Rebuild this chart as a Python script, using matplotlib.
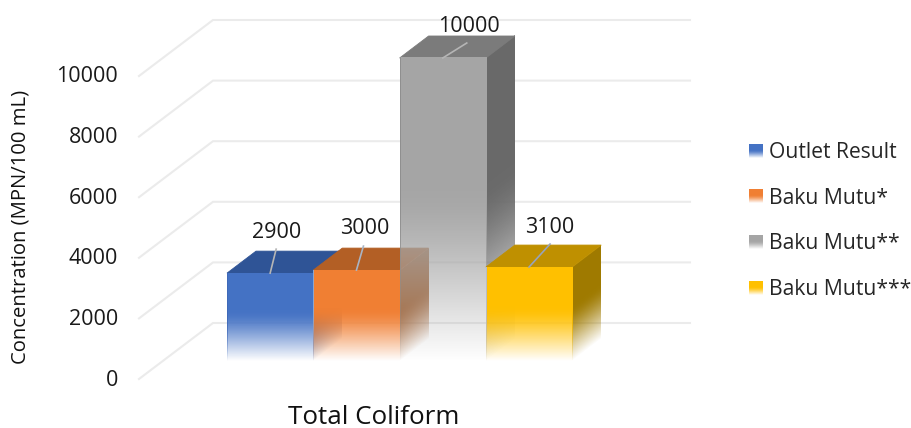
import numpy as np
import matplotlib
matplotlib.use('Agg')
import matplotlib.pyplot as plt
from matplotlib.colors import to_rgb
from matplotlib.patches import Polygon
from matplotlib.transforms import Affine2D

plt.rcParams['font.family'] = ['Open Sans', 'DejaVu Sans']

series = ['Outlet Result', 'Baku Mutu*', 'Baku Mutu**', 'Baku Mutu***']
values = [2900, 3000, 10000, 3100]
category = 'Total Coliform'
y_ticks = [0, 2000, 4000, 6000, 8000, 10000]
y_label = 'Concentration (MPN/100 mL)'

front_colors = ['#4472c4', '#f07f33', '#a5a5a5', '#ffc000']
top_colors = ['#2f5496', '#b35f25', '#7b7b7b', '#bf9000']
side_colors = ['#2f5496', '#a8622f', '#696969', '#9f7a00']
edge_colors = ['#3f69b8', '#8fa6cc', '#8f8f8f', '#b8bcc4']

# pixel scale of the chart
W, H = 912, 428
PX_X = 86.3
PX_Y = 0.0303
X0, Y0 = 227, 361


def dx(px):
    return px / PX_X


def dy(px):
    return px / PX_Y


# bar depth and floor offsets, in data units
DEPTH_X, DEPTH_Y = dx(29), dy(22)
FLOOR_FRONT = (dx(139 - X0), dy(Y0 - 379))
FLOOR_BACK = (dx(213 - X0), dy(Y0 - 323))
WALL_END = dx(690 - X0)

fig = plt.figure(figsize=(W / 100, H / 100), dpi=100)
ax = fig.add_axes([0, 0, 1, 1])
ax.axis('off')


def fade(color):
    # solid towards the top, fading out almost linearly to the bottom
    t = np.linspace(0, 1, 1024)
    s = np.clip(t / 0.58, 0, 1)
    img = np.ones((1024, 1, 4))
    img[:, :, :3] = to_rgb(color)
    img[:, :, 3] = (1.2 * s - 0.2 * s ** 6)[:, None]
    return img


def face(color, origin, u, v, base, z):
    m = np.array([[u[0], v[0], origin[0]], [u[1], v[1], origin[1]], [0, 0, 1]])
    ax.imshow(fade(color), extent=(0, 1, 0, 1), origin='lower', aspect='auto',
              interpolation='nearest',
              transform=Affine2D(m) + base, zorder=z)


# gridlines on the floor and the back wall
for t in y_ticks:
    ax.plot([FLOOR_FRONT[0], FLOOR_BACK[0], WALL_END],
            [t + FLOOR_FRONT[1], t + FLOOR_BACK[1], t + FLOOR_BACK[1]],
            color='#ebebeb', lw=1.5, zorder=1, solid_joinstyle='miter')
    ax.text(FLOOR_FRONT[0] - dx(21), t + FLOOR_FRONT[1] - dy(1), str(t), ha='right', va='center',
            fontsize=15.5, color='#1a1a1a')

# bars, left to right, each one covering the previous
for i, v in enumerate(values):
    z = 3 + i
    face(side_colors[i], (i + 1, 0), (DEPTH_X, DEPTH_Y), (0, v), ax.transData, z)
    top = [(i, v), (i + 1, v), (i + 1 + DEPTH_X, v + DEPTH_Y), (i + DEPTH_X, v + DEPTH_Y)]
    ax.add_patch(Polygon(top, closed=True, fc=top_colors[i], ec=top_colors[i], lw=0.6, zorder=z))
    face(front_colors[i], (i, 0), (1, 0), (0, v), ax.transData, z)
    # one pixel wide outline down the left of the bar, fading like the face
    face(edge_colors[i], (i, 0), (dx(1), 0), (0, v), ax.transData, z)

# value labels with their leader lines (offsets in pixels from the front top edge)
leader_ends = [(6, 24), (7, 24), (24, 15), (21, 23)]
label_pos = [(6, 41), (8, 42), (26, 32), (21, 40)]
leader_colors = ['#b5b5b5', '#a9b4c4', '#b5b5b5', '#98a3bb']
for i, v in enumerate(values):
    x0, y0 = i + 0.5, v
    ax.plot([x0, x0 + dx(leader_ends[i][0])], [y0, y0 + dy(leader_ends[i][1])],
            color=leader_colors[i], lw=1.2, zorder=10)
    ax.text(x0 + dx(label_pos[i][0]), y0 + dy(label_pos[i][1]), str(v), ha='center',
            va='center', fontsize=15.5, color='#1a1a1a', zorder=11)

# axis titles
fig.text(374 / W, 1 - 417 / H, category, ha='center', va='center', fontsize=18.7, color='#111111')
fig.text(21 / W, 1 - 227 / H, y_label, rotation=90, ha='center', va='center',
         fontsize=14.6, color='#111111')

# legend
legend_y = [152.5, 198, 243.5, 289.5]
for name, c, ly in zip(series, front_colors, legend_y):
    face(c, (749 / W, 1 - (ly + 5.5) / H), (14 / W, 0), (0, 14 / H), ax.transAxes, 12)
    fig.text(769 / W, 1 - ly / H, name, ha='left', va='center', fontsize=15.2, color='#262626')

ax.set_xlim(-X0 / PX_X, (W - X0) / PX_X)
ax.set_ylim(-(H - Y0) / PX_Y, Y0 / PX_Y)

fig.savefig('out.png', dpi=100)
